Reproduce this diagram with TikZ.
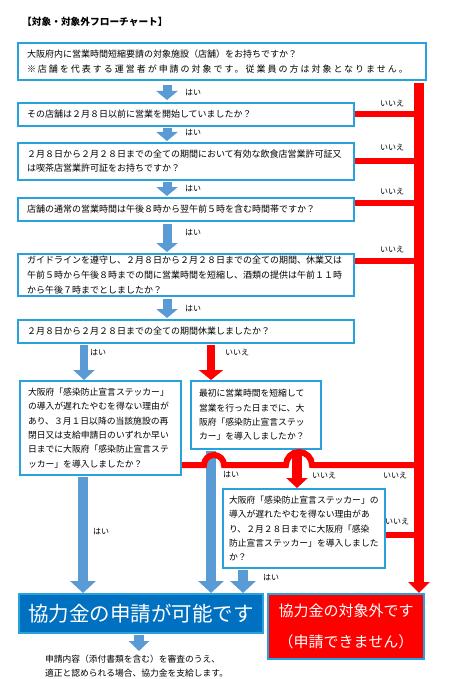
\documentclass[tikz,border=0pt]{standalone}
\usepackage{fontspec}
\setmainfont{Noto Sans CJK JP}
\usetikzlibrary{arrows.meta}
\definecolor{boxblue}{RGB}{40,162,220}
\definecolor{arrowblue}{RGB}{91,155,213}
\definecolor{bigblue}{RGB}{0,112,192}
\definecolor{nored}{RGB}{255,0,0}
\begin{document}
\begin{tikzpicture}[x=1pt,y=-1pt,
  qbox/.style={draw=boxblue,line width=2pt,fill=white,anchor=north west,align=left,inner ysep=0pt,font=\fontsize{9}{15}\selectfont},
  sbox/.style={qbox,font=\fontsize{8.8}{14.4}\selectfont},
  lbl/.style={font=\fontsize{8}{9}\selectfont,inner sep=0pt},
  barrow/.style={draw=arrowblue,line width=9pt,-{Triangle[width=21pt,length=9pt]}},
  bigarrow/.style={draw=arrowblue,line width=10pt,-{Triangle[width=25pt,length=12pt]}},
  rarrow/.style={draw=nored,line width=9pt,-{Triangle[width=24pt,length=10pt]}},
  rline/.style={draw=nored,line width=6pt},
]
\fill[white] (0,0) rectangle (452,679);
\useasboundingbox (0,0) rectangle (452,679);

\node[anchor=west,inner sep=0pt,font=\fontsize{9.7}{10}\selectfont\bfseries] (title) at (22,22) {【対象・対象外フローチャート】};

\node[qbox,minimum width=408pt,minimum height=37pt,inner xsep=9pt,text width=390pt] (b1) at (17,42)
  {大阪府内に営業時間短縮要請の対象施設（店舗）をお持ちですか？\\{\addfontfeature{LetterSpace=22}※店舗を代表する運営者が申請の対象です。従業員の方は対象となりません。}};
\node[qbox,minimum width=336pt,minimum height=23pt,inner xsep=9pt,text width=318pt] (b2) at (17,102)
  {その店舗は２月８日以前に営業を開始していましたか？};
\node[qbox,minimum width=336pt,minimum height=37pt,inner xsep=9pt,text width=318pt,font=\fontsize{9}{14}\selectfont] (b3) at (17,142)
  {２月８日から２月２８日までの全ての期間において有効な飲食店営業許可証又\\は喫茶店営業許可証をお持ちですか？};
\node[qbox,minimum width=336pt,minimum height=23pt,inner xsep=9pt,text width=318pt] (b4) at (17,197)
  {店舗の通常の営業時間は午後８時から翌午前５時を含む時間帯ですか？};
\node[qbox,minimum width=336pt,minimum height=42pt,inner xsep=9pt,text width=318pt] (b5) at (17,253)
  {ガイドラインを遵守し、２月８日から２月２８日までの全ての期間、休業又は\\午前５時から午後８時までの間に営業時間を短縮し、酒類の提供は午前１１時\\から午後７時までとしましたか？};
\node[qbox,minimum width=336pt,minimum height=23pt,inner xsep=9pt,text width=318pt] (b6) at (17,319)
  {２月８日から２月２８日までの全ての期間休業しましたか？};
\node[sbox,minimum width=161pt,minimum height=94pt,inner xsep=8pt,text width=145pt] (b7) at (19,380)
  {大阪府「感染防止宣言ステッカー」\\の導入が遅れたやむを得ない理由が\\あり、３月１日以降の当該施設の再\\閉日又は支給申請日のいずれか早い\\日までに大阪府「感染防止宣言ステ\\ッカー」を導入しましたか？};
\node[sbox,minimum width=130pt,minimum height=68pt,inner xsep=8pt,text width=114pt] (b8) at (190,380)
  {最初に営業時間を短縮して\\営業を行った日までに、大\\阪府「感染防止宣言ステッ\\カー」を導入しましたか？};
\node[sbox,minimum width=160pt,minimum height=79pt,inner xsep=6pt,text width=150pt] (b9) at (222,488)
  {大阪府「感染防止宣言ステッカー」の\\導入が遅れたやむを得ない理由があ\\り、２月２８日までに大阪府「感染\\防止宣言ステッカー」を導入しました\\か？};
\node[draw=boxblue,line width=2pt,fill=bigblue,text=white,anchor=north west,minimum width=244pt,minimum height=39pt,inner sep=0pt,font=\fontsize{20.5}{22}\selectfont] (big) at (18,593)
  {協力金の申請が可能です};
\node[draw=boxblue,line width=2pt,fill=nored,text=white,anchor=north west,minimum width=156pt,minimum height=65pt,inner sep=0pt,align=center,font=\fontsize{15}{31}\selectfont] (rbox) at (267,593)
  {協力金の対象外です\\（申請できません）};
\node[anchor=north west,align=left,inner sep=0pt,font=\fontsize{8.75}{14}\selectfont] (note) at (45,655)
  {申請内容（添付書類を含む）を審査のうえ、\\適正と認められる場合、協力金を支給します。};

% blue arrows between main boxes
\coordinate (a1) at ([xshift=150pt]b1.south west);
\coordinate (a2) at ([xshift=150pt]b2.south west);
\coordinate (a3) at ([xshift=150pt]b3.south west);
\coordinate (a4) at ([xshift=150pt]b4.south west);
\coordinate (a5) at ([xshift=150pt]b5.south west);
\draw[barrow,shorten <=4pt,shorten >=2pt] (a1) -- (a1 |- b2.north);
\draw[barrow,shorten <=1pt,shorten >=1pt] (a2) -- (a2 |- b3.north);
\draw[barrow,shorten <=1pt,shorten >=1pt] (a3) -- (a3 |- b4.north);
\draw[barrow,shorten <=2pt,shorten >=1pt] (a4) -- (a4 |- b5.north);
\draw[barrow,shorten <=2pt,shorten >=1pt] (a5) -- (a5 |- b6.north);

% from b6
\coordinate (a6y) at ([xshift=67pt]b6.south west);
\coordinate (a6n) at ([xshift=194pt]b6.south west);
\draw[draw=arrowblue,line width=8pt,-{Triangle[width=21pt,length=10pt]},shorten <=1pt] (a6y) -- (a6y |- b7.north);
\draw[rarrow,line width=8pt,shorten <=1pt] (a6n) -- (a6n |- b8.north);

% to the big result boxes
\coordinate (a7) at ([xshift=64pt]b7.south west);
\coordinate (a8y) at ([xshift=21pt]b8.south west);
\coordinate (a8n) at ([xshift=107pt]b8.south west);
\coordinate (a9) at ([xshift=21pt]b9.south west);
\draw[bigarrow,shorten <=1pt] (a7) -- (a7 |- big.north);
\draw[bigarrow,shorten <=1pt] (a8y) -- (a8y |- big.north);
\draw[bigarrow,shorten <=1pt] (a9) -- (a9 |- big.north);
\draw[rarrow,line width=10pt,-{Triangle[width=21pt,length=10pt]}] (a8n) -- (a8n |- b9.north);

% red "no" bar
\coordinate (bartop) at (419,83);
\coordinate (c4) at ([yshift=-6pt]b4.north east);
\coordinate (c5) at ([yshift=-8pt]b5.north east);
\coordinate (c9) at ([yshift=-47pt]b9.north east);
\coordinate (h0) at ([yshift=11pt]b7.south east);
\draw[rline] (b2.east) -- (b2.east -| bartop);
\draw[rline] (b3.east) -- (b3.east -| bartop);
\draw[rline] (c4) -- (c4 -| bartop);
\draw[rline] (c5) -- (c5 -| bartop);
\draw[rline] (c9) -- (c9 -| bartop);
\draw[rline] (h0) -- ++(22,0) arc[start angle=180,end angle=0,radius=10pt] -- ++(62,0) arc[start angle=180,end angle=0,radius=13pt] -- (h0 -| bartop);
\draw[draw=nored,line width=10pt,-{Triangle[width=21pt,length=11pt]}] (bartop) -- (bartop |- rbox.north);

% note arrow
\coordinate (a10) at ([xshift=-2pt]big.south);
\draw[draw=arrowblue,line width=10pt,-{Triangle[width=20pt,length=10pt]},shorten <=1pt,shorten >=4pt] (a10) -- (a10 |- note.north);

% labels
\node[lbl] (y1) at (193,93) {はい};
\node[lbl] (y2) at (193,133) {はい};
\node[lbl] (y3) at (193,189) {はい};
\node[lbl] (y4) at (193,233) {はい};
\node[lbl] (y5) at (193,309) {はい};
\node[lbl] (y6) at (98,353) {はい};
\node[lbl] (y7) at (101,532) {はい};
\node[lbl] (y8) at (231,475) {はい};
\node[lbl] (y9) at (271,578) {はい};
\node[lbl] (n2) at (392,104) {いいえ};
\node[lbl] (n3) at (392,148) {いいえ};
\node[lbl] (n4) at (392,192) {いいえ};
\node[lbl] (n5) at (392,250) {いいえ};
\node[lbl] (n6) at (237,353) {いいえ};
\node[lbl] (n8) at (324,476) {いいえ};
\node[lbl] (n7) at (395,476) {いいえ};
\node[lbl] (n9) at (397,522) {いいえ};
\end{tikzpicture}
\end{document}
